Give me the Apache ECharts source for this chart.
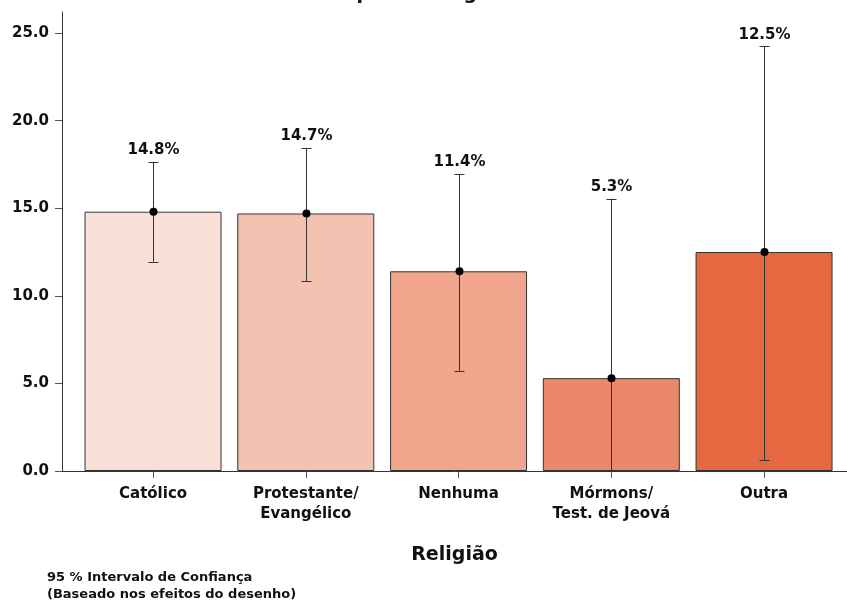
<!DOCTYPE html>
<html lang="pt">
<head>
    <meta charset="UTF-8">
    <title>Religião</title>
    <script src="https://cdn.jsdelivr.net/npm/echarts@6/dist/echarts.min.js"></script>
    <style>
        html, body { margin: 0; padding: 0; background: #fff; }
        #chart { width: 847px; height: 603px; }
    </style>
</head>
<body>
    <div id="chart"></div>
    <script>
        // dados
        var categories = ['Católico', 'Protestante/\nEvangélico', 'Nenhuma', 'Mórmons/\nTest. de Jeová', 'Outra'];
        var values = [14.8, 14.7, 11.4, 5.3, 12.5];
        var ciLow = [11.95, 10.85, 5.7, 0.0, 0.65];
        var ciHigh = [17.65, 18.45, 16.95, 15.55, 24.25];
        var barColors = ['#f9dfd6', '#f4c2b0', '#f0a58c', '#eb876a', '#e66841'];
        var yTicks = [0, 5, 10, 15, 20, 25];

        var chart = echarts.init(document.getElementById('chart'));
        var font = '"DejaVu Sans", sans-serif';

        var barData = values.map(function (v, i) {
            return { value: [i, v], itemStyle: { color: barColors[i] } };
        });
        var errData = values.map(function (v, i) {
            return [i, v, ciLow[i], ciHigh[i]];
        });

        var option = {
            animation: false,
            title: [
                {
                    // título cortado no topo, só aparecem as descendentes
                    text: 'Grupo de Religião',
                    left: 318,
                    top: -15,
                    padding: 0,
                    textStyle: { fontFamily: font, fontSize: 19, fontWeight: 'bold', color: '#111' }
                },
                {
                    text: '95 % Intervalo de Confiança\n(Baseado nos efeitos do desenho)',
                    left: 47,
                    top: 569,
                    padding: 0,
                    textStyle: { fontFamily: font, fontSize: 13, fontWeight: 'bold', color: '#111', lineHeight: 17 }
                }
            ],
            grid: { left: 62, right: 0, top: 12, bottom: 132 },
            xAxis: {
                type: 'value',
                min: -0.596,
                max: 4.543,
                splitLine: { show: false },
                axisLine: { show: true, onZero: false, lineStyle: { color: '#333', width: 1 } },
                axisTick: { show: true, length: 7, customValues: [0, 1, 2, 3, 4], lineStyle: { color: '#555' } },
                axisLabel: {
                    customValues: [0, 1, 2, 3, 4],
                    formatter: function (v) { return categories[Math.round(v)]; },
                    fontFamily: font, fontSize: 15, fontWeight: 'bold', color: '#111',
                    lineHeight: 20, margin: 13
                },
                name: 'Religião',
                nameLocation: 'middle',
                nameGap: 75,
                nameTextStyle: { fontFamily: font, fontSize: 19, fontWeight: 'bold', color: '#111', verticalAlign: 'top' }
            },
            yAxis: {
                type: 'value',
                min: 0,
                max: 26.2,
                splitLine: { show: false },
                axisLine: { show: true, onZero: false, lineStyle: { color: '#333', width: 1 } },
                axisTick: { show: true, length: 7, customValues: yTicks, lineStyle: { color: '#555' } },
                axisLabel: {
                    customValues: yTicks,
                    formatter: function (v) { return v.toFixed(1); },
                    fontFamily: font, fontSize: 15, fontWeight: 'bold', color: '#111', margin: 13
                }
            },
            series: [
                {
                    type: 'bar',
                    barWidth: 137,
                    data: barData,
                    itemStyle: { borderColor: '#333', borderWidth: 1 }
                },
                {
                    type: 'custom',
                    data: errData,
                    z: 5,
                    renderItem: function (params, api) {
                        var x = api.value(0);
                        var mid = api.coord([x, api.value(1)]);
                        var lo = api.coord([x, api.value(2)]);
                        var hi = api.coord([x, api.value(3)]);
                        var cx = Math.round(mid[0]) + 0.5;
                        var stroke = { stroke: '#333', lineWidth: 1 };
                        return {
                            type: 'group',
                            children: [
                                { type: 'line', shape: { x1: cx, y1: lo[1], x2: cx, y2: hi[1] }, style: stroke },
                                { type: 'line', shape: { x1: cx - 5, y1: Math.round(hi[1]) + 0.5, x2: cx + 5, y2: Math.round(hi[1]) + 0.5 }, style: stroke },
                                { type: 'line', shape: { x1: cx - 5, y1: Math.round(lo[1]) + 0.5, x2: cx + 5, y2: Math.round(lo[1]) + 0.5 }, style: stroke },
                                { type: 'circle', shape: { cx: cx, cy: mid[1], r: 4 }, style: { fill: '#000' } },
                                {
                                    type: 'text',
                                    style: {
                                        text: api.value(1).toFixed(1) + '%',
                                        x: cx, y: hi[1] - 4,
                                        align: 'center', verticalAlign: 'bottom',
                                        font: 'bold 15px ' + font,
                                        fill: '#111'
                                    }
                                }
                            ]
                        };
                    }
                }
            ]
        };

        chart.setOption(option);
    </script>
</body>
</html>
